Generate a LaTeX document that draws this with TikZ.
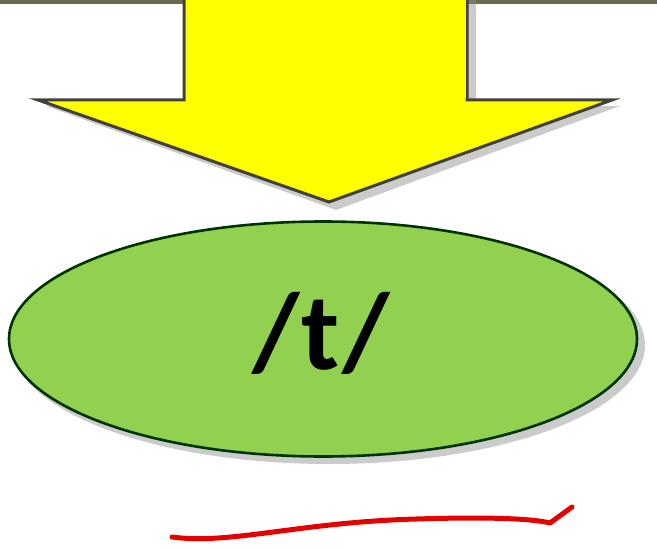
\documentclass[tikz,border=0pt]{standalone}
\usepackage{fontspec}
\setmainfont{Carlito}
\usetikzlibrary{shapes.geometric,shadows}
\definecolor{arrowyellow}{HTML}{FFFF00}
\definecolor{ovalgreen}{HTML}{92D050}
\definecolor{topband}{HTML}{6B6A50}
\tikzset{
  shade/.style={fill=black!45, opacity=0.45},
  arrowshape/.style={fill=arrowyellow, draw=black!85!yellow, line width=3pt, line join=miter},
  oval/.style={ellipse, fill=ovalgreen, draw=black!80!green, line width=2.6pt, minimum width=628pt, minimum height=235pt, inner sep=0pt},
  redline/.style={draw=red!90!black, line width=5pt, line cap=round, line join=round}
}
\begin{document}
\begin{tikzpicture}[x=1pt,y=-1pt]
\useasboundingbox (0,0) rectangle (657,548);
% top band
\fill[topband] (0,0) rectangle (657,4);
% arrow shadow
\fill[shade] (190,0) -- (190,106) -- (46,106) -- (336,210) -- (620,106) -- (476,106) -- (476,0) -- cycle;
% arrow
\draw[arrowshape] (184,-3) -- (184,100) -- (38,100) -- (329,202) -- (612,100) -- (467,100) -- (467,-3);
\fill[arrowyellow] (185.5,-4) rectangle (465.5,98);
% oval shadow
\fill[shade] (329,345) ellipse [x radius=316pt, y radius=119pt];
% oval
\node[oval] (t) at (323,339) {};
\node[font=\fontsize{110}{110}\selectfont\bfseries] (lbl) at (321,333) {/\kern2pt t\kern2pt/};
% red underline
\draw[redline] (172,537) .. controls (230,545) and (300,522) .. (417,519)
  .. controls (480,517) and (530,518) .. (550,523) -- (572,507);
\end{tikzpicture}
\end{document}
